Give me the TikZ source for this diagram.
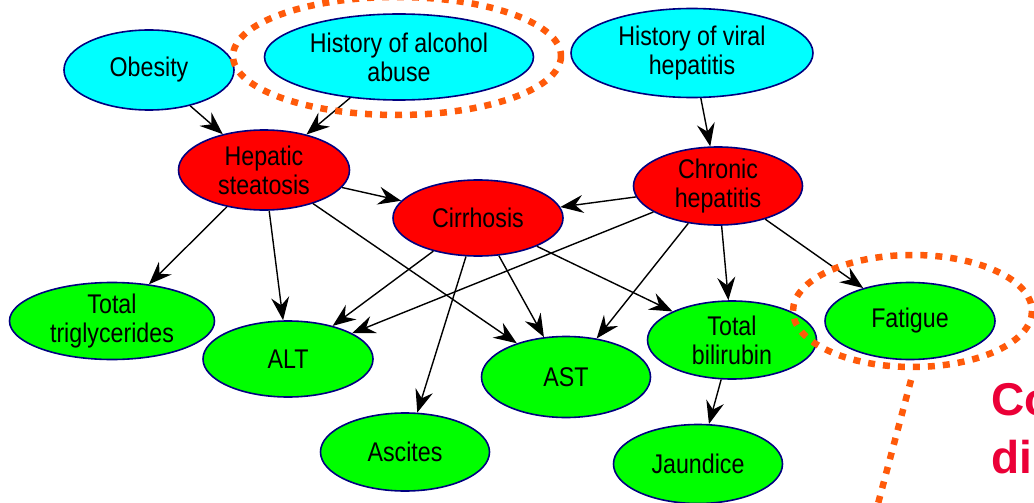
\documentclass[tikz,border=0pt]{standalone}
\usepackage{fontspec}
\usetikzlibrary{arrows.meta,shapes.geometric}
\newfontfamily\netfont{Liberation Sans}[FakeStretch=0.86]
\newfontfamily\slidefont{Liberation Sans}
\definecolor{rootcyan}{RGB}{0,255,255}
\definecolor{hiddenred}{RGB}{255,0,0}
\definecolor{obsgreen}{RGB}{0,255,0}
\definecolor{rimnavy}{RGB}{0,0,128}
\definecolor{markorange}{RGB}{255,90,10}
\definecolor{titlered}{RGB}{235,0,55}
\tikzset{
  var/.style={ellipse, draw=rimnavy, line width=1.6pt, inner sep=0pt,
    align=center, text=black, font={\netfont\fontsize{27}{29}\selectfont}},
  rootvar/.style={var, fill=rootcyan},
  midvar/.style={var, fill=hiddenred},
  leafvar/.style={var, fill=obsgreen},
  link/.style={line width=1.4pt, black,
    -{Stealth[length=23pt,width=18pt,inset=8pt]}},
  marker/.style={markorange, line width=6.5pt, dash pattern=on 7pt off 8pt},
  slidetext/.style={titlered, inner sep=0pt, anchor=base west,
    font={\slidefont\bfseries\fontsize{46}{50}\selectfont}}
}
\begin{document}
\begin{tikzpicture}[x=1pt,y=-1pt]
\useasboundingbox (0,0) rectangle (1034,503);
\clip (0,0) rectangle (1034,503);
\fill[white] (0,0) rectangle (1034,503);

% background causes
\node[rootvar, minimum width=170pt, minimum height=80pt] (obes) at (149,70) {Obesity};
\node[rootvar, minimum width=269pt, minimum height=86pt] (alc) at (399,57) {History of alcohol\\abuse};
\node[rootvar, minimum width=242pt, minimum height=89pt] (viral) at (692,53) {History of viral\\hepatitis};

% diseases
\node[midvar, minimum width=171pt, minimum height=80pt] (stea) at (264,170) {Hepatic\\steatosis};
\node[midvar, minimum width=170pt, minimum height=76pt] (cirr) at (478,218) {Cirrhosis};
\node[midvar, minimum width=169pt, minimum height=78pt] (chron) at (718,186) {Chronic\\hepatitis};

% findings
\node[leafvar, minimum width=205pt, minimum height=77pt] (trig) at (112,321) {Total\\triglycerides};
\node[leafvar, minimum width=170pt, minimum height=76pt] (alt) at (288,359) {ALT};
\node[leafvar, minimum width=169pt, minimum height=81pt] (ast) at (566,377) {AST};
\node[leafvar, minimum width=169pt, minimum height=78pt] (bili) at (732,340) {Total\\bilirubin};
\node[leafvar, minimum width=170pt, minimum height=77pt] (fat) at (910,321) {Fatigue};
\node[leafvar, minimum width=169pt, minimum height=78pt] (asc) at (405,452) {Ascites};
\node[leafvar, minimum width=169pt, minimum height=79pt] (jaun) at (698,464) {Jaundice};

% dependencies
\draw[link] (obes) -- (stea);
\draw[link] (alc) -- (stea);
\draw[link] (viral) -- (chron);
\draw[link] (stea) -- (cirr);
\draw[link] (chron) -- (cirr);
\draw[link] (stea) -- (trig);
\draw[link] (stea) -- (alt);
\draw[link] (stea) -- (ast);
\draw[link] (cirr) -- (alt);
\draw[link] (cirr) -- (asc);
\draw[link] (cirr) -- (ast);
\draw[link] (cirr) -- (bili);
\draw[link] (chron) -- (alt);
\draw[link] (chron) -- (ast);
\draw[link] (chron) -- (bili);
\draw[link] (chron) -- (fat);
\draw[link] (bili) -- (jaun);

% highlight rings
\draw[marker] (397,56) ellipse [x radius=164, y radius=59];
\draw[marker] (912.5,311) ellipse [x radius=119.5, y radius=56];
\coordinate (tailA) at (911,380);
\coordinate (tailB) at (875,515);
\draw[marker] (tailA) -- (tailB);

% slide caption running off the edge
\node[slidetext] (capA) at (991,415) {Co};
\node[slidetext] (capB) at (991,473) {di};
\end{tikzpicture}
\end{document}
